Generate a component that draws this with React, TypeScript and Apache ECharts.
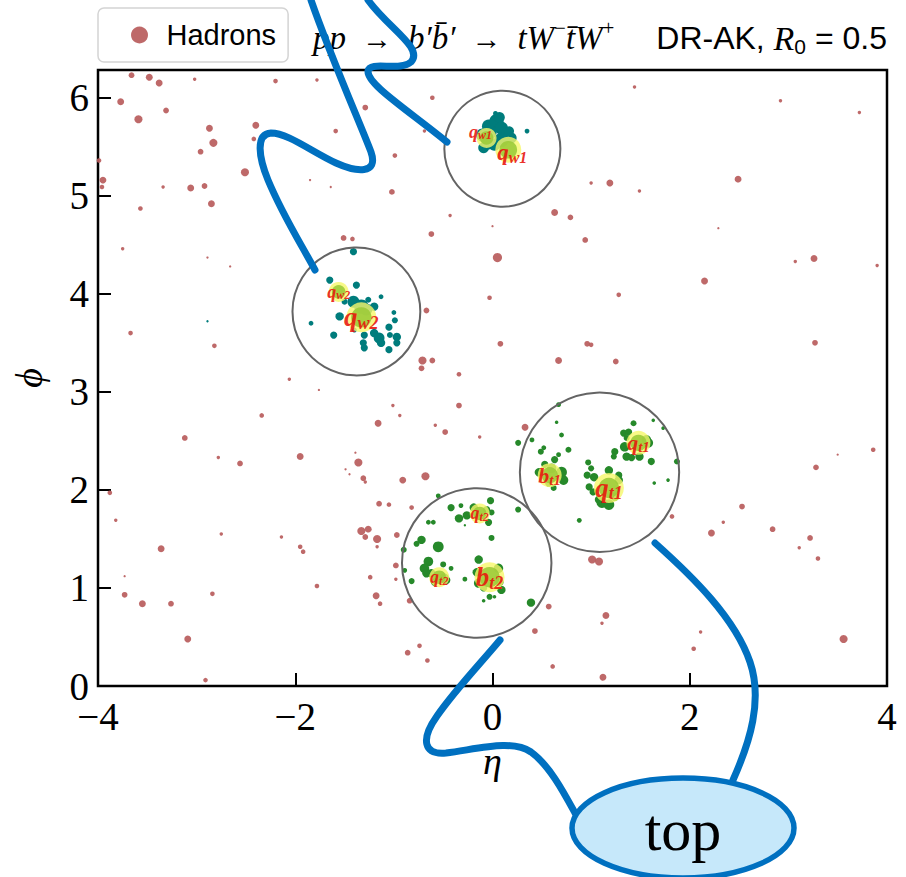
import React, { useEffect, useRef } from 'react';
import * as echarts from 'echarts';

// ---------- axis ranges ----------
const ETA_MIN = -4;
const ETA_MAX = 4;
const ETA_STEP = 2;
const PHI_MIN = 0;
const PHI_MAX = 2 * Math.PI;
const PHI_STEP = 1;

// ---------- data: [eta, phi, pT-weight] ----------
const hadrons: [number, number, number][] = [
  [-3.66, 6.23, 5], [-3.48, 6.21, 6], [-3.38, 6.15, 6], [-3.02, 6.19, 3], [-2.2, 6.17, 4], [-1.78, 6.18, 3],
  [-3.77, 5.96, 6], [-3.31, 5.87, 5], [-3.59, 5.78, 7], [-2.87, 5.69, 6], [-2.83, 5.54, 7], [-2.96, 5.45, 5],
  [-2.4, 5.72, 6], [-2.42, 5.58, 4], [-2.51, 5.24, 7], [-1.59, 5.66, 4], [-1.29, 5.9, 5], [-0.61, 6.0, 4],
  [-0.69, 5.66, 3], [-0.99, 5.41, 4], [-3.99, 5.36, 4], [-3.95, 5.16, 6], [-3.96, 5.09, 4], [-3.34, 5.09, 3],
  [-3.06, 5.08, 6], [-2.92, 5.1, 5], [-2.85, 4.92, 6], [-1.85, 5.16, 2], [-1.64, 5.09, 2], [-1.02, 5.04, 5],
  [-3.57, 4.87, 4], [-0.43, 4.8, 3], [-0.62, 4.61, 5], [0.0, 4.69, 2], [0.05, 4.37, 8], [-3.75, 4.46, 3],
  [-2.89, 4.37, 2], [-2.66, 4.28, 2], [-1.51, 4.57, 5], [-1.42, 4.56, 4], [-0.67, 3.83, 5], [-0.03, 3.96, 4],
  [-3.67, 3.6, 4], [-2.82, 3.47, 4], [-0.71, 3.32, 7], [-0.61, 3.32, 5], [-0.72, 3.24, 5], [-0.34, 3.18, 4],
  [-2.06, 3.13, 3],
  [1.44, 6.11, 3], [2.92, 5.97, 3], [3.72, 5.85, 3], [1.0, 5.13, 3], [1.19, 5.13, 6], [1.49, 5.05, 3],
  [2.49, 5.17, 6], [0.63, 4.83, 6], [0.79, 4.78, 5], [0.94, 4.55, 5], [2.29, 4.67, 2], [3.07, 4.33, 3],
  [3.26, 4.36, 6], [3.9, 4.29, 3], [2.15, 4.13, 6], [1.28, 3.99, 4], [0.08, 3.49, 5], [0.96, 3.49, 5],
  [1.0, 3.48, 4], [0.67, 3.32, 6], [1.25, 3.31, 5], [3.27, 3.5, 5],
  [-1.76, 3.02, 2], [-1.01, 2.86, 3], [-0.94, 2.76, 3], [-0.34, 2.86, 5], [-2.34, 2.76, 4], [-1.16, 2.68, 6],
  [-0.58, 2.66, 3], [-0.48, 2.59, 5], [-0.13, 2.54, 3], [-3.12, 2.53, 5], [-1.95, 2.34, 6], [-2.78, 2.33, 3],
  [-2.56, 2.27, 5], [-1.39, 2.38, 2], [-1.36, 2.28, 7], [-1.49, 2.21, 2], [-1.45, 2.16, 2], [-1.31, 2.12, 5],
  [-1.29, 2.08, 3], [-0.91, 2.1, 6], [-0.68, 2.14, 7], [-3.88, 1.97, 4], [-3.82, 1.69, 3], [-1.15, 1.86, 5],
  [-1.05, 1.85, 4], [-0.82, 1.82, 4], [-1.33, 1.58, 7], [-1.26, 1.6, 6], [-1.29, 1.52, 5], [-1.17, 1.5, 7],
  [-1.17, 1.42, 3], [-0.97, 1.54, 5], [-2.75, 1.55, 3], [-2.14, 1.52, 3], [-1.95, 1.42, 4], [-1.92, 1.37, 4],
  [-3.36, 1.4, 6], [-0.98, 1.23, 5], [-0.98, 1.09, 3], [-1.24, 1.11, 4], [-3.73, 1.12, 2], [-1.78, 1.02, 4],
  [-3.73, 0.93, 5], [-3.55, 0.84, 6], [-3.26, 0.84, 5], [-2.84, 0.94, 4], [-1.18, 0.92, 6], [-1.14, 0.84, 4],
  [-0.84, 0.87, 5], [-3.09, 0.48, 6], [-0.86, 0.34, 5], [-0.74, 0.41, 4], [-0.66, 0.26, 4], [-2.91, 0.06, 4],
  [0.33, 2.64, 6], [1.82, 1.73, 4], [2.34, 1.67, 3], [2.53, 1.83, 5], [2.22, 1.56, 6], [2.84, 1.6, 5],
  [3.22, 1.51, 5], [3.11, 1.41, 3], [3.3, 1.3, 4], [3.28, 2.23, 5], [3.5, 2.36, 2], [3.86, 2.41, 4],
  [1.01, 1.29, 7], [1.08, 1.27, 7], [0.57, 0.81, 5], [1.15, 0.72, 6], [1.11, 0.64, 3], [0.43, 0.56, 5],
  [2.11, 0.55, 3], [2.04, 0.38, 4], [0.61, 0.2, 4], [1.12, 0.09, 6], [3.56, 0.48, 7],
];

const wJetConstituents: [number, number, number][] = [
  [0.03, 5.84, 4], [0.35, 5.66, 4], [-0.04, 5.71, 11], [0.04, 5.76, 12], [0.09, 5.69, 11], [0.14, 5.63, 10],
  [0.19, 5.59, 9], [-0.1, 5.62, 11], [-0.04, 5.54, 11], [0.02, 5.52, 10], [-0.09, 5.49, 9], [0.09, 5.57, 12],
  [-0.03, 5.65, 12], [0.07, 5.8, 9], [0.17, 5.66, 8],
  [-1.41, 4.43, 6], [-1.65, 4.14, 6], [-1.38, 4.09, 6], [-1.5, 3.92, 5], [-1.41, 3.92, 10], [-1.33, 3.87, 12],
  [-1.28, 3.84, 10], [-1.55, 3.77, 7], [-1.13, 3.97, 4], [-1.26, 3.94, 5], [-1.2, 3.87, 7], [-1.0, 3.81, 4],
  [-0.99, 3.73, 5], [-1.84, 3.7, 4], [-1.61, 3.58, 6], [-1.3, 3.58, 6], [-1.2, 3.6, 7], [-1.15, 3.55, 9],
  [-1.05, 3.66, 6], [-1.04, 3.58, 5], [-0.97, 3.56, 7], [-1.13, 3.5, 7], [-1.31, 3.5, 6], [-1.3, 3.45, 6],
  [-1.05, 3.43, 6], [-0.97, 3.5, 6], [-1.4, 3.63, 4], [-2.89, 3.72, 2],
];

const topJetConstituents: [number, number, number][] = [
  [0.47, 2.18, 7], [0.53, 2.26, 6], [0.63, 2.31, 6], [0.6, 2.22, 8], [0.7, 2.18, 9], [0.72, 2.1, 8],
  [0.57, 2.07, 6], [0.62, 2.02, 5], [0.67, 2.36, 4], [0.49, 2.39, 5], [0.52, 2.43, 4], [0.4, 2.51, 4],
  [0.26, 2.48, 5], [0.7, 2.56, 4], [0.77, 2.41, 5], [0.67, 2.87, 4], [0.65, 2.69, 3],
  [0.97, 2.28, 5], [1.0, 2.22, 5], [0.96, 2.15, 6], [1.03, 2.13, 7], [1.18, 2.2, 7], [1.28, 2.15, 6],
  [1.28, 2.1, 7], [0.98, 2.03, 6], [1.02, 1.98, 6], [1.11, 1.87, 9], [1.18, 1.85, 9], [1.24, 1.93, 7],
  [1.08, 1.9, 7], [0.88, 1.69, 4],
  [1.33, 2.58, 6], [1.36, 2.53, 5], [1.38, 2.59, 6], [1.43, 2.68, 5], [1.56, 2.51, 8], [1.58, 2.48, 8],
  [1.34, 2.44, 8], [1.36, 2.34, 7], [1.24, 2.39, 6], [1.23, 2.34, 5], [1.49, 2.34, 7], [1.41, 2.33, 6],
  [1.61, 2.29, 6], [1.63, 2.71, 3], [1.73, 2.63, 3], [1.87, 2.29, 5], [1.78, 2.1, 3], [1.64, 2.07, 3],
  [0.26, 1.8, 5],
  [-0.19, 1.82, 7], [-0.06, 1.8, 6], [-0.02, 1.89, 6], [-0.01, 1.77, 5], [-0.04, 1.67, 6], [-0.26, 1.74, 7],
  [-0.34, 1.71, 7], [-0.42, 1.82, 6], [-0.32, 1.84, 4], [-0.55, 1.94, 4], [-0.65, 1.67, 4], [-0.6, 1.67, 4],
  [-0.28, 1.64, 2], [-0.01, 1.51, 5],
  [-0.65, 1.27, 8], [-0.69, 1.2, 8], [-0.67, 1.15, 7], [-0.62, 1.15, 7], [-0.49, 1.1, 8], [-0.47, 1.08, 7],
  [-0.59, 1.06, 6], [-0.42, 1.2, 4], [-0.5, 1.24, 5], [-0.55, 1.42, 9], [-0.72, 1.49, 7], [-0.77, 1.45, 5],
  [-0.9, 1.39, 5], [-0.89, 1.18, 4], [-0.82, 1.07, 5], [-0.28, 1.09, 4],
  [-0.14, 1.29, 7], [-0.16, 1.16, 7], [-0.14, 1.05, 8], [-0.09, 1.0, 6], [0.06, 1.2, 8], [0.07, 1.06, 7],
  [0.09, 0.98, 7], [-0.03, 0.91, 5], [-0.09, 0.87, 3], [0.02, 0.91, 3], [0.39, 0.85, 7],
];

// partons: eta, phi, pT-weight, symbol, subscript
const partons: [number, number, number, string, string][] = [
  [-0.06, 5.59, 20, 'q', 'w1'],
  [0.16, 5.47, 26, 'q', 'w1'],
  [-1.56, 4.02, 20, 'q', 'w2'],
  [-1.33, 3.76, 30, 'q', 'w2'],
  [0.58, 2.15, 24, 'b', 't1'],
  [1.18, 2.02, 30, 'q', 't1'],
  [1.48, 2.48, 24, 'q', 't1'],
  [-0.13, 1.76, 20, 'q', 't2'],
  [-0.54, 1.11, 20, 'q', 't2'],
  [-0.03, 1.11, 30, 'b', 't2'],
];

// jets: eta, phi, radius (in eta-phi units)
const jetCircles: [number, number, number][] = [
  [0.1, 5.48, 0.59],
  [-1.38, 3.82, 0.65],
  [1.085, 2.18, 0.81],
  [-0.16, 1.255, 0.76],
];

const legendLabel = 'Hadrons';
const calloutText = 'top';

// ---------- annotation shapes ----------
const BLUE = '#0070c0';
const pathA = 'M311,0 C330,55 362,128 371,152 C379,175 356,172 336,163 C312,152 288,133 271,133 C255,134 259,158 268,180 C283,216 300,242 315,270';
const pathB = 'M368,0 C388,28 424,48 411,62 C400,72 370,60 368,71 C367,84 405,108 447,142';
const pathC = 'M500,640 C480,664 455,690 437,716 C420,740 424,755 446,753 C478,749 512,739 531,752 C549,765 563,791 575,813';
const pathD = 'M655,543 C693,577 735,618 750,662 C763,700 750,742 733,780';
echarts.graphic.registerShape('annotA', echarts.graphic.extendPath(pathA, {}));
echarts.graphic.registerShape('annotB', echarts.graphic.extendPath(pathB, {}));
echarts.graphic.registerShape('annotC', echarts.graphic.extendPath(pathC, {}));
echarts.graphic.registerShape('annotD', echarts.graphic.extendPath(pathD, {}));

const SERIF = 'Liberation Serif';
const SANS = 'Liberation Sans';

const minusFmt = (v: number) => (v < 0 ? '\u2212' + Math.abs(v) : String(v));

export default function App() {
  const ref = useRef<HTMLDivElement>(null);
  useEffect(() => {
    if (!ref.current) return;
    const chart = echarts.init(ref.current, null, { renderer: 'svg' });

    const labelRich: Record<string, any> = {};
    partons.forEach((p, i) => {
      const f = Math.round(p[2] * 0.9);
      labelRich['m' + i] = { fontFamily: SERIF, fontStyle: 'italic', fontWeight: 'bold', fontSize: f, color: '#e8140c', lineHeight: f };
      labelRich['s' + i] = {
        fontFamily: SERIF, fontStyle: 'italic', fontWeight: 'bold', fontSize: Math.round(f * 0.68), color: '#e8140c',
        lineHeight: Math.round(f * 0.6), padding: [Math.round(f * 0.4), 0, 0, 0],
      };
    });
    // the two W1 quark labels sit very close; nudge them apart slightly
    const labelNudge: Record<number, [number, number]> = { 0: [-6, -6], 1: [4, 3] };

    const line = (shape: string) => ({
      type: shape, z: 100, silent: true,
      style: { fill: 'none', stroke: BLUE, lineWidth: 7, lineCap: 'round' },
    });

    const option: any = {
      animation: false,
      backgroundColor: '#ffffff',
      grid: { left: 98, right: 19, top: 70, bottom: 191, show: true, borderColor: '#000', borderWidth: 2.5 },
      legend: {
        data: [legendLabel],
        left: 98, top: 8,
        orient: 'horizontal',
        icon: 'circle',
        itemWidth: 36, itemHeight: 17,
        padding: [12, 12, 12, 33],
        backgroundColor: '#fff',
        borderColor: '#d4d4d4', borderWidth: 1.5, borderRadius: 6,
        textStyle: { fontFamily: SANS, fontSize: 29, color: '#000', lineHeight: 30, padding: [0, 0, 0, 4] },
      },
      xAxis: {
        type: 'value', min: ETA_MIN, max: ETA_MAX, interval: ETA_STEP,
        name: 'η', nameLocation: 'middle', nameGap: 56,
        nameTextStyle: { fontFamily: SERIF, fontStyle: 'italic', fontSize: 38, color: '#000' },
        axisLine: { show: false, onZero: false },
        axisTick: { show: true, inside: true, length: 13, lineStyle: { color: '#000', width: 2 } },
        axisLabel: { fontFamily: SERIF, fontSize: 39, color: '#000', margin: 15, lineHeight: 30, formatter: minusFmt },
        splitLine: { show: false },
      },
      yAxis: {
        type: 'value', min: PHI_MIN, max: PHI_MAX, interval: PHI_STEP,
        name: 'ϕ', nameLocation: 'middle', nameGap: 50, nameRotate: 90,
        nameTextStyle: { fontFamily: SERIF, fontStyle: 'italic', fontSize: 38, color: '#000' },
        axisLine: { show: false, onZero: false },
        axisTick: { show: true, inside: true, length: 13, lineStyle: { color: '#000', width: 2 } },
        axisLabel: { fontFamily: SERIF, fontSize: 39, color: '#000', margin: 9, lineHeight: 28, showMaxLabel: false,
          formatter: (v: number) => (Number.isInteger(v) ? String(v) : '') },
        splitLine: { show: false },
      },
      series: [
        {
          name: legendLabel, type: 'scatter', data: hadrons,
          symbolSize: (v: number[]) => v[2] * 1.15,
          itemStyle: { color: '#b85c5c', opacity: 0.92 },
          z: 2,
        },
        {
          name: 'W constituents', type: 'scatter', data: wJetConstituents,
          symbolSize: (v: number[]) => v[2] * 1.2,
          itemStyle: { color: '#007c7c', opacity: 1 },
          z: 3,
        },
        {
          name: 'top constituents', type: 'scatter', data: topJetConstituents,
          symbolSize: (v: number[]) => v[2] * 1.2,
          itemStyle: { color: '#26892a', opacity: 1 },
          z: 3,
        },
        {
          name: 'parton halo', type: 'scatter', data: partons.map((p) => [p[0], p[1], p[2]]),
          symbolSize: (v: number[]) => v[2],
          itemStyle: { color: '#f6f86a', opacity: 0.8 },
          z: 4,
        },
        {
          name: 'parton', type: 'scatter',
          data: partons.map((p, i) => ({
            value: [p[0], p[1], p[2]],
            label: labelNudge[i] ? { offset: labelNudge[i] } : undefined,
          })),
          symbolSize: (v: number[]) => v[2] * 0.68,
          itemStyle: { color: '#9ccb3a', opacity: 0.9 },
          label: {
            show: true, position: 'inside',
            formatter: (params: any) => {
              const i = params.dataIndex;
              return `{m${i}|${partons[i][3]}}{s${i}|${partons[i][4]}}`;
            },
            rich: labelRich,
          },
          z: 5,
        },
        {
          name: 'jets', type: 'custom', data: jetCircles,
          encode: { x: 0, y: 1 },
          renderItem: (params: any, api: any) => {
            const c = api.coord([api.value(0), api.value(1)]);
            const s = api.size([api.value(2), api.value(2)]);
            return {
              type: 'circle', silent: true,
              shape: { cx: c[0], cy: c[1], r: (s[0] + s[1]) / 2 },
              style: { fill: 'none', stroke: '#646464', lineWidth: 2 },
            };
          },
          z: 6,
        },
      ],
      graphic: {
        elements: [
          {
            type: 'text', x: 313, y: 38, z: 50, silent: true,
            style: {
              text: '{i|pp}  {a|→}  {i|b′b\u0304′}  {a|→}  {i|tW}{p|−}{i|t\u0304W}{p|+}',
              font: `32px "${SERIF}"`,
              fill: '#000', verticalAlign: 'middle',
              rich: {
                i: { fontFamily: SERIF, fontStyle: 'italic', fontSize: 33, lineHeight: 36 },
                a: { fontFamily: SERIF, fontSize: 30, lineHeight: 36 },
                p: { fontFamily: SERIF, fontSize: 21, lineHeight: 16, padding: [0, 0, 20, 0] },
              },
            },
          },
          {
            type: 'text', x: 887, y: 38, z: 50, silent: true,
            style: {
              text: '{s|DR-AK,} {r|R}{b|0}{s| = 0.5}',
              font: `32px "${SANS}"`,
              fill: '#000', align: 'right', verticalAlign: 'middle',
              rich: {
                s: { fontFamily: SANS, fontSize: 32, lineHeight: 36 },
                r: { fontFamily: SERIF, fontStyle: 'italic', fontSize: 34, lineHeight: 36 },
                b: { fontFamily: SANS, fontSize: 21, lineHeight: 20, padding: [16, 0, 0, 0] },
              },
            },
          },
          line('annotA'),
          line('annotB'),
          line('annotC'),
          line('annotD'),
          {
            type: 'ellipse', z: 101, silent: true,
            shape: { cx: 683, cy: 828, rx: 111, ry: 50 },
            style: { fill: '#c6e8fa', stroke: BLUE, lineWidth: 5.5 },
          },
          {
            type: 'text', x: 683, y: 830, z: 102, silent: true,
            style: { text: calloutText, font: `60px "${SERIF}"`, fill: '#000', align: 'center', verticalAlign: 'middle' },
          },
        ],
      },
    };
    chart.setOption(option);
    return () => chart.dispose();
  }, []);
  return (
    <div
      ref={ref}
      style={{ position: 'fixed', left: 0, top: 0, width: 906, height: 877, background: '#fff' }}
    />
  );
}
